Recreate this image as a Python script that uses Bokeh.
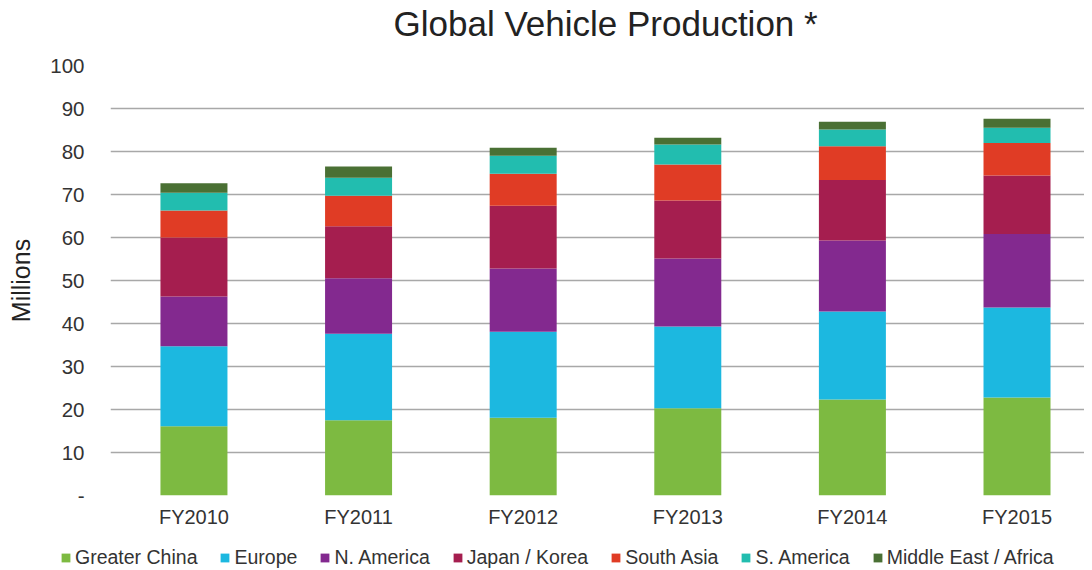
from bokeh.plotting import figure
from bokeh.models import Range1d, Legend, FixedTicker, ColumnDataSource, Title
from bokeh.layouts import column
from bokeh.embed import file_html
from bokeh.resources import INLINE

years = ["FY2010", "FY2011", "FY2012", "FY2013", "FY2014", "FY2015"]
regions = ["Greater China", "Europe", "N. America", "Japan / Korea",
           "South Asia", "S. America", "Middle East / Africa"]
greater_china = [16.1, 17.5, 18.1, 20.3, 22.3, 22.8]
europe        = [18.6, 20.1, 20.0, 19.0, 20.5, 20.9]
n_america     = [11.6, 12.9, 14.7, 15.8, 16.5, 17.1]
japan_korea   = [13.7, 12.1, 14.6, 13.5, 14.1, 13.6]
south_asia    = [6.3, 7.1, 7.4, 8.4, 7.8, 7.6]
s_america     = [4.1, 4.2, 4.2, 4.6, 3.9, 3.5]
me_africa     = [2.2, 2.6, 1.9, 1.6, 1.8, 2.1]
colors = ["#7dba41", "#1cb8e0", "#83298f", "#a51e4f", "#e03c25", "#22bdaf", "#4a7034"]
y_ticks = [0, 10, 20, 30, 40, 50, 60, 70, 80, 90, 100]

FONT = "Liberation Sans"

xpos = list(range(len(years)))
source = ColumnDataSource(dict(
    x=xpos,
    **{"Greater China": greater_china, "Europe": europe, "N. America": n_america,
       "Japan / Korea": japan_korea, "South Asia": south_asia,
       "S. America": s_america, "Middle East / Africa": me_africa}))

p = figure(x_range=Range1d(-0.507, 5.41), y_range=Range1d(0, 100),
           width=1084, height=545, output_backend="svg", toolbar_location=None,
           title=None,
           min_border_left=110, min_border_right=0, min_border_top=65,
           min_border_bottom=50)

renderers = p.vbar_stack(regions, x="x", width=0.407, color=colors, source=source,
                         line_color=None)

# spacer between title and plot area, then the title itself
p.add_layout(Title(text=" ", text_font_size="10px", standoff=10), "above")
p.add_layout(Title(text="Global Vehicle Production *", text_font=FONT,
                   text_font_size="35px", text_font_style="normal",
                   text_color="#222222", align="left", offset=283, standoff=0),
             "above")

p.outline_line_color = None
p.xgrid.grid_line_color = None
p.ygrid.grid_line_color = "#a8a8a8"
p.ygrid.grid_line_width = 1.6
p.yaxis.ticker = FixedTicker(ticks=y_ticks)
p.yaxis.major_label_overrides = {0: "-"}
p.yaxis.axis_line_color = None
p.yaxis.major_tick_line_color = None
p.yaxis.major_tick_out = 0
p.yaxis.minor_tick_line_color = None
p.yaxis.major_label_standoff = 26
p.yaxis.major_label_text_font = FONT
p.yaxis.major_label_text_font_size = "20.5px"
p.yaxis.major_label_text_color = "#333333"
p.yaxis.axis_label = "Millions"
p.yaxis.axis_label_text_font = FONT
p.yaxis.axis_label_text_font_size = "25px"
p.yaxis.axis_label_text_font_style = "normal"
p.yaxis.axis_label_text_color = "#222222"
p.yaxis.axis_label_standoff = 12

p.xaxis.ticker = FixedTicker(ticks=xpos)
p.xaxis.major_label_overrides = {i: y for i, y in zip(xpos, years)}
p.xaxis.axis_line_color = None
p.xaxis.major_tick_line_color = None
p.xaxis.minor_tick_line_color = None
p.xaxis.major_tick_out = 0
p.xaxis.major_label_standoff = 10
p.xaxis.major_label_text_font = FONT
p.xaxis.major_label_text_font_size = "20px"
p.xaxis.major_label_text_color = "#333333"

# legend strip
p2 = figure(x_range=Range1d(0, 1), y_range=Range1d(0, 1), width=1084, height=24,
            output_backend="svg", toolbar_location=None,
            x_axis_location=None, y_axis_location=None,
            min_border_left=0, min_border_right=0, min_border_top=0, min_border_bottom=0)
if "frame_align" in p2.properties():
    p2.frame_align = False
p2.outline_line_color = None
p2.grid.grid_line_color = None
swatches = [p2.vbar(x=[0.5], top=[0], width=0.1, color=c, line_color=None) for c in colors]

legend = Legend(items=[(r, [s]) for r, s in zip(regions, swatches)],
                orientation="horizontal", location=(60, 0),
                label_text_font=FONT, label_text_font_size="19.5px",
                label_text_color="#333333", glyph_width=11, glyph_height=11,
                label_standoff=4, spacing=22, padding=0, margin=0,
                border_line_color=None, background_fill_alpha=0)
p2.add_layout(legend, "center")

layout = column(p, p2, spacing=0)
open("out.html", "w").write(file_html(layout, INLINE))
